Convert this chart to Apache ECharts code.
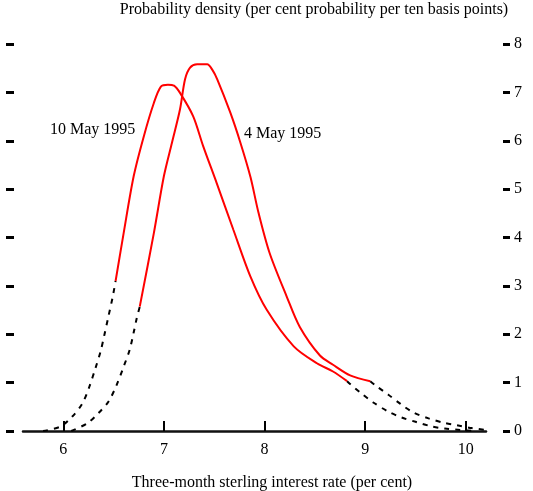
<!DOCTYPE html>
<html>
<head>
<meta charset="utf-8">
<script src="https://cdn.jsdelivr.net/npm/echarts@6/dist/echarts.min.js"></script>
<style>
html,body{margin:0;padding:0;background:#fff;}
#chart{width:533px;height:491px;}
</style>
</head>
<body>
<div id="chart"></div>
<script>
// ---- data ----
// 10 May 1995 curve
var may10TailLeftX = [5.80, 5.97, 6.09, 6.19, 6.26, 6.32, 6.37, 6.41, 6.45, 6.49, 6.52];
var may10TailLeftY = [0.00, 0.09, 0.30, 0.57, 0.92, 1.30, 1.64, 2.00, 2.38, 2.76, 3.10];
var may10BodyX = [6.52, 6.60, 6.70, 6.80, 6.90, 6.97, 7.04, 7.10, 7.16, 7.29, 7.39, 7.52, 7.69, 7.86, 8.02, 8.29, 8.52, 8.68, 8.82];
var may10BodyY = [3.10, 4.09, 5.27, 6.09, 6.78, 7.12, 7.16, 7.14, 6.99, 6.51, 5.89, 5.15, 4.16, 3.19, 2.51, 1.75, 1.40, 1.23, 1.03];
var may10TailRightX = [8.82, 8.85, 8.96, 9.08, 9.23, 9.36, 9.50, 9.65, 9.79, 9.95, 10.10];
var may10TailRightY = [1.03, 0.97, 0.78, 0.59, 0.40, 0.28, 0.19, 0.10, 0.05, 0.02, 0.00];
// 4 May 1995 curve
var may4TailLeftX = [6.08, 6.24, 6.35, 6.45, 6.53, 6.60, 6.66, 6.70, 6.73, 6.76];
var may4TailLeftY = [0.00, 0.16, 0.37, 0.61, 0.95, 1.33, 1.68, 2.04, 2.33, 2.57];
var may4BodyX = [6.76, 6.90, 7.00, 7.08, 7.16, 7.21, 7.26, 7.33, 7.38, 7.43, 7.48, 7.53, 7.66, 7.76, 7.86, 7.94, 8.05, 8.22, 8.35, 8.55, 8.68, 8.85, 9.05];
var may4BodyY = [2.57, 4.09, 5.27, 5.96, 6.65, 7.27, 7.51, 7.58, 7.58, 7.58, 7.47, 7.27, 6.58, 5.96, 5.25, 4.51, 3.68, 2.78, 2.15, 1.56, 1.37, 1.15, 1.03];
var may4TailRightX = [9.05, 9.11, 9.23, 9.35, 9.48, 9.63, 9.78, 9.91, 10.06, 10.20];
var may4TailRightY = [1.03, 0.93, 0.75, 0.56, 0.38, 0.26, 0.17, 0.12, 0.06, 0.02];

var xTicks = [6, 7, 8, 9, 10];

var titleText = 'Probability density (per cent probability per ten basis points)';
var xNameText = 'Three-month sterling interest rate (per cent)';
var label10 = '10 May 1995';
var label4 = '4 May 1995';

function pairs(xs, ys) { return xs.map(function (x, i) { return [x, ys[i]]; }); }

var FONT = '"Liberation Serif", "Times New Roman", serif';
var chart = echarts.init(document.getElementById('chart'), null, {renderer: 'canvas'});

function dashed(name, xs, ys) {
  return {
    type: 'line', name: name, data: pairs(xs, ys), showSymbol: false, smooth: 0.3,
    lineStyle: {color: '#000', width: 2, type: [5, 6]}, z: 2, silent: true
  };
}
function solid(name, xs, ys) {
  return {
    type: 'line', name: name, data: pairs(xs, ys), showSymbol: false, smooth: 0.3,
    lineStyle: {color: '#ff0000', width: 2}, z: 3, silent: true
  };
}

chart.setOption({
  animation: false,
  backgroundColor: '#fff',
  grid: {left: 23, right: 47, top: 44, bottom: 60, containLabel: false},
  xAxis: {
    type: 'value', min: 5.6, max: 10.2,
    axisLine: {show: true, lineStyle: {color: '#111', width: 2.5}},
    axisTick: {show: true, inside: true, length: 10, lineStyle: {color: '#000', width: 2}, customValues: xTicks},
    axisLabel: {show: true, margin: 11, fontFamily: FONT, fontSize: 16, color: '#000', customValues: xTicks},
    splitLine: {show: false}
  },
  yAxis: [
    {
      type: 'value', min: 0, max: 8, interval: 1, position: 'left', offset: 9,
      axisLine: {show: false},
      axisTick: {show: true, inside: false, length: 8, lineStyle: {color: '#000', width: 3}},
      axisLabel: {show: false},
      splitLine: {show: false}
    },
    {
      type: 'value', min: 0, max: 8, interval: 1, position: 'right', offset: 17,
      axisLine: {show: false},
      axisTick: {show: true, inside: false, length: 7, lineStyle: {color: '#000', width: 3}},
      axisLabel: {show: true, margin: 11, fontFamily: FONT, fontSize: 16, color: '#000'},
      splitLine: {show: false}
    }
  ],
  graphic: [
    {type: 'text', x: 314, y: 10, style: {text: titleText, font: '16px ' + FONT, fill: '#000', textAlign: 'center', textVerticalAlign: 'middle'}},
    {type: 'text', x: 272, y: 483, style: {text: xNameText, font: '16px ' + FONT, fill: '#000', textAlign: 'center', textVerticalAlign: 'middle'}},
    {type: 'text', x: 50, y: 130, style: {text: label10, font: '16px ' + FONT, fill: '#000', textAlign: 'left', textVerticalAlign: 'middle'}},
    {type: 'text', x: 244, y: 134, style: {text: label4, font: '16px ' + FONT, fill: '#000', textAlign: 'left', textVerticalAlign: 'middle'}}
  ],
  series: [
    dashed('10 May tail L', may10TailLeftX, may10TailLeftY),
    dashed('10 May tail R', may10TailRightX, may10TailRightY),
    dashed('4 May tail L', may4TailLeftX, may4TailLeftY),
    dashed('4 May tail R', may4TailRightX, may4TailRightY),
    solid('10 May 1995', may10BodyX, may10BodyY),
    solid('4 May 1995', may4BodyX, may4BodyY)
  ]
});
</script>
</body>
</html>
